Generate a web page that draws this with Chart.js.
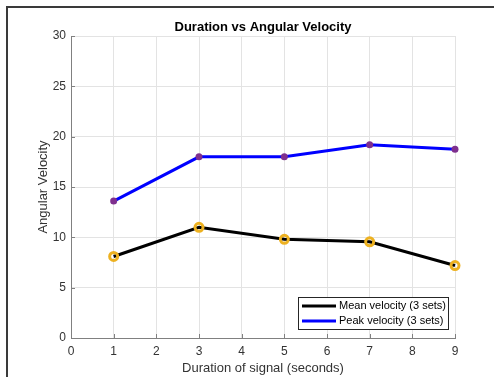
<!DOCTYPE html>
<html>
<head>
<meta charset="utf-8">
<script src="https://cdn.jsdelivr.net/npm/chart.js@4/dist/chart.umd.min.js"></script>
<style>
  html, body { margin: 0; padding: 0; background: #fff; }
  #wrap { width: 494px; height: 377px; position: relative; }
</style>
</head>
<body>
<div id="wrap"><canvas id="c" width="494" height="377"></canvas></div>
<script>
const durations = [1, 3, 5, 7, 9];
const meanVelocity = [8.1, 11.0, 9.8, 9.55, 7.2];
const peakVelocity = [13.6, 18.0, 18.0, 19.2, 18.75];
const seriesLabels = ['Mean velocity (3 sets)', 'Peak velocity (3 sets)'];
const titleText = 'Duration vs Angular Velocity';
const xTitle = 'Duration of signal (seconds)';
const yTitle = 'Angular Velocity';

const FONT = '"Liberation Sans", Arial, Helvetica, sans-serif';
const TXT = '#333333';

const framePlugin = {
  id: 'frame',
  beforeDraw(chart) {
    const ctx = chart.ctx;
    ctx.save();
    ctx.fillStyle = '#fff';
    ctx.fillRect(0, 0, chart.width, chart.height);
    ctx.strokeStyle = '#3a3a3a';
    ctx.lineWidth = 2;
    ctx.beginPath();
    ctx.moveTo(7, chart.height);
    ctx.lineTo(7, 7);
    ctx.lineTo(chart.width, 7);
    ctx.stroke();
    ctx.restore();
  },
  afterDraw(chart) {
    const ctx = chart.ctx;
    const xs = chart.scales.x, ys = chart.scales.y;
    const a = chart.chartArea;
    ctx.save();
    // title
    ctx.fillStyle = '#000';
    ctx.font = 'bold 13px ' + FONT;
    ctx.textAlign = 'center';
    ctx.textBaseline = 'middle';
    ctx.fillText(titleText, (a.left + a.right) / 2, 27);
    // inward tick marks
    ctx.strokeStyle = '#808080';
    ctx.lineWidth = 1;
    ctx.beginPath();
    xs.ticks.forEach(t => {
      const px = Math.round(xs.getPixelForValue(t.value)) + 0.5;
      ctx.moveTo(px, a.bottom);
      ctx.lineTo(px, a.bottom - 4);
    });
    ys.ticks.forEach(t => {
      const py = Math.round(ys.getPixelForValue(t.value)) + 0.5;
      ctx.moveTo(a.left, py);
      ctx.lineTo(a.left + 4, py);
    });
    ctx.stroke();
    // legend
    const lx = 298, ly = 297, lw = 150, lh = 32;
    ctx.fillStyle = '#fff';
    ctx.fillRect(lx, ly, lw, lh);
    ctx.strokeStyle = '#262626';
    ctx.lineWidth = 1;
    ctx.strokeRect(lx + 0.5, ly + 0.5, lw, lh);
    ctx.font = '11px ' + FONT;
    ctx.textAlign = 'left';
    ctx.textBaseline = 'middle';
    chart.data.datasets.forEach((ds, i) => {
      const yy = ly + 9 + i * 15;
      ctx.strokeStyle = ds.borderColor;
      ctx.lineWidth = 3;
      ctx.beginPath();
      ctx.moveTo(lx + 4, yy);
      ctx.lineTo(lx + 38, yy);
      ctx.stroke();
      ctx.fillStyle = '#000';
      ctx.fillText(ds.label, lx + 41, yy);
    });
    ctx.restore();
  }
};

new Chart(document.getElementById('c'), {
  type: 'line',
  data: {
    datasets: [
      {
        label: seriesLabels[0],
        data: durations.map((d, i) => ({ x: d, y: meanVelocity[i] })),
        borderColor: '#000000',
        borderWidth: 3,
        pointRadius: 4,
        pointBorderWidth: 3,
        pointBorderColor: '#EDB120',
        pointBackgroundColor: 'rgba(0,0,0,0)',
        tension: 0,
        clip: false
      },
      {
        label: seriesLabels[1],
        data: durations.map((d, i) => ({ x: d, y: peakVelocity[i] })),
        borderColor: '#0000FF',
        borderWidth: 3,
        pointRadius: 3.5,
        pointBorderWidth: 0,
        pointBackgroundColor: '#7E2F8E',
        tension: 0,
        clip: false
      }
    ]
  },
  options: {
    responsive: false,
    animation: false,
    layout: { padding: { top: 36, right: 39, left: 0, bottom: 0 } },
    plugins: {
      legend: { display: false },
      title: { display: false },
      tooltip: { enabled: false }
    },
    scales: {
      x: {
        type: 'linear',
        min: 0, max: 9,
        ticks: { stepSize: 1, color: TXT, font: { family: FONT, size: 12 }, padding: 6, maxRotation: 0 },
        grid: { color: '#e3e3e3', drawTicks: false },
        border: { color: '#808080' },
        title: { display: true, text: xTitle, color: TXT, font: { family: FONT, size: 13 }, padding: { top: 0, bottom: 1 } },
        afterFit(s) { s.height = 39; }
      },
      y: {
        min: 0, max: 30,
        ticks: { stepSize: 5, color: TXT, font: { family: FONT, size: 12 }, padding: 5 },
        grid: { color: '#e3e3e3', drawTicks: false },
        border: { color: '#808080' },
        title: { display: true, text: yTitle, color: TXT, font: { family: FONT, size: 13 }, padding: { top: 36, bottom: 0 } },
        afterFit(s) { s.width = 71; }
      }
    }
  },
  plugins: [framePlugin]
});
</script>
</body>
</html>
